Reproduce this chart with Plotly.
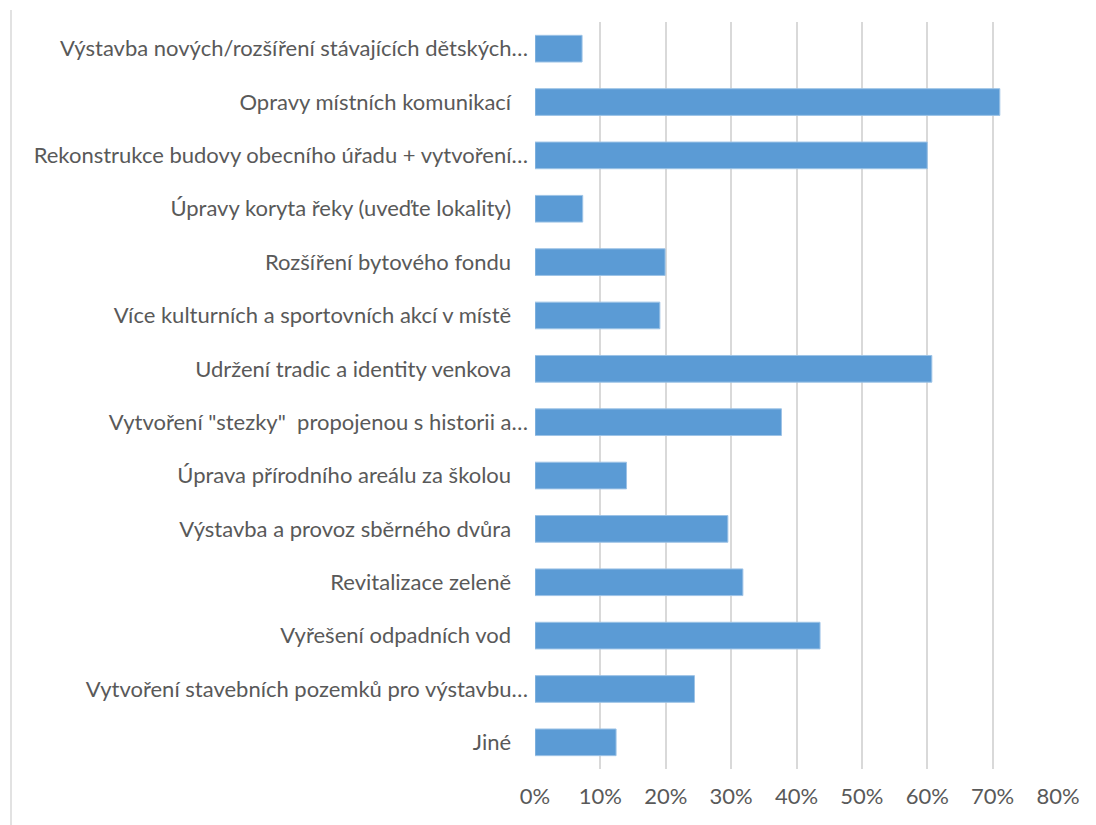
import plotly.graph_objects as go

# categories, top to bottom as in the chart
categories = [
    "Výstavba nových/rozšíření stávajících dětských…",
    "Opravy místních komunikací",
    "Rekonstrukce budovy obecního úřadu + vytvoření…",
    "Úpravy koryta řeky (uveďte lokality)",
    "Rozšíření bytového fondu",
    "Více kulturních a sportovních akcí v místě",
    "Udržení tradic a identity venkova",
    "Vytvoření \"stezky\"  propojenou s historii a…",
    "Úprava přírodního areálu za školou",
    "Výstavba a provoz sběrného dvůra",
    "Revitalizace zeleně",
    "Vyřešení odpadních vod",
    "Vytvoření stavebních pozemků pro výstavbu…",
    "Jiné",
]

shares = [0.072, 0.711, 0.600, 0.073, 0.199, 0.191, 0.607,
          0.377, 0.140, 0.295, 0.318, 0.436, 0.244, 0.124]

x_ticks = [0, 0.1, 0.2, 0.3, 0.4, 0.5, 0.6, 0.7, 0.8]

# labels that are not cut off keep a bit of trailing space like in the original
labels = [c if c.endswith("…") else c + "\u00a0\u00a0\u00a0" for c in categories]

fig = go.Figure(
    go.Bar(
        x=shares,
        y=labels,
        orientation="h",
        marker=dict(color="#5B9BD5", line=dict(color="#9DC3E6", width=1)),
    )
)

# page body has an 8px margin, so the figure is a bit smaller than the window
fig.update_layout(
    width=1088,
    height=817,
    margin=dict(l=527, r=38, t=14, b=56),
    paper_bgcolor="white",
    plot_bgcolor="white",
    bargap=0.5,
    showlegend=False,
    font=dict(family="Lato", size=22, color="#595959"),
)

fig.update_xaxes(
    range=[0, 0.8],
    tickvals=x_ticks,
    tickformat=".0%",
    showgrid=True,
    gridcolor="#D9D9D9",
    gridwidth=1.5,
    zeroline=False,
    showline=False,
    ticks="",
    ticklabelstandoff=12,
)

fig.update_yaxes(
    autorange="reversed",
    showgrid=False,
    showline=False,
    ticks="",
    ticklabelstandoff=6,
)

# light frame edge on the left side of the chart area
fig.add_shape(
    type="line",
    xref="paper", yref="paper",
    xsizemode="pixel", ysizemode="pixel",
    xanchor=0, yanchor=1,
    x0=-524, x1=-524, y0=12, y1=-803,
    line=dict(color="#D9D9D9", width=1.5),
)

fig.write_html("out.html")
